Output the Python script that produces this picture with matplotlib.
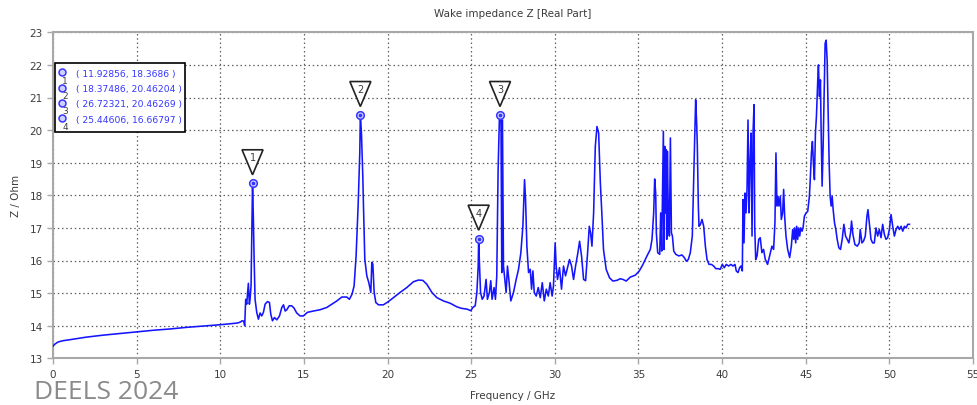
import matplotlib
matplotlib.use("Agg")
import matplotlib.pyplot as plt
import matplotlib.patches as mpatches
import matplotlib.transforms as mtransforms

# ---- data (frequency in GHz, Re(Z) in Ohm) ----
freq_ghz = [
    0.0, 0.1, 0.3, 0.6, 1.0, 2.0, 3.0, 4.0, 5.0, 6.0, 7.0, 8.0, 9.0, 10.0, 10.6, 11.0, 11.2, 11.3, 11.4, 11.46,
    11.52, 11.58, 11.68, 11.74, 11.78, 11.84, 11.88, 11.92856, 11.98, 12.02, 12.08, 12.18, 12.28, 12.38, 12.48,
    12.58, 12.68, 12.82, 12.94, 13.02, 13.12, 13.24, 13.38, 13.54, 13.68, 13.78, 13.88, 13.98, 14.12, 14.27,
    14.41, 14.57, 14.77, 14.97, 15.21, 15.57, 15.97, 16.37, 16.67, 16.97, 17.27, 17.56, 17.72, 17.88, 18.00,
    18.12, 18.24, 18.34, 18.37486, 18.44, 18.52, 18.56, 18.64, 18.76, 18.88, 19.00, 19.06, 19.12, 19.20, 19.30,
    19.46, 19.75, 20.05, 20.35, 20.75, 21.15, 21.55, 21.85, 22.11, 22.35, 22.65, 22.95, 23.34, 23.74, 24.14,
    24.44, 24.74, 24.98, 25.10, 25.24, 25.34, 25.42, 25.44606, 25.50, 25.56, 25.66, 25.77, 25.89, 25.97, 26.09,
    26.17, 26.25, 26.37, 26.45, 26.53, 26.61, 26.69, 26.72321, 26.78, 26.83, 26.87, 26.93, 27.01, 27.09, 27.17,
    27.25, 27.37, 27.53, 27.69, 27.83, 27.97, 28.09, 28.19, 28.25, 28.33, 28.43, 28.53, 28.61, 28.69, 28.77,
    28.89, 29.01, 29.13, 29.25, 29.37, 29.49, 29.61, 29.72, 29.84, 29.92, 30.02, 30.08, 30.16, 30.28, 30.40,
    30.52, 30.64, 30.76, 30.88, 31.00, 31.12, 31.24, 31.38, 31.48, 31.60, 31.72, 31.84, 31.96, 32.06, 32.14,
    32.22, 32.32, 32.42, 32.52, 32.62, 32.72, 32.81, 32.91, 33.07, 33.27, 33.47, 33.71, 33.91, 34.07, 34.27,
    34.51, 34.81, 35.05, 35.27, 35.51, 35.71, 35.81, 35.91, 35.97, 36.03, 36.07, 36.15, 36.27, 36.33, 36.39,
    36.45, 36.49, 36.53, 36.57, 36.61, 36.65, 36.69, 36.73, 36.79, 36.85, 36.91, 36.97, 37.03, 37.11, 37.23,
    37.41, 37.60, 37.74, 37.86, 37.98, 38.10, 38.22, 38.30, 38.36, 38.42, 38.48, 38.52, 38.58, 38.62, 38.70,
    38.80, 38.90, 39.00, 39.10, 39.22, 39.36, 39.50, 39.62, 39.76, 39.89, 40.01, 40.13, 40.25, 40.39, 40.53,
    40.65, 40.77, 40.85, 40.95, 41.05, 41.13, 41.21, 41.25, 41.31, 41.37, 41.43, 41.49, 41.55, 41.61, 41.67,
    41.73, 41.79, 41.85, 41.91, 41.95, 42.01, 42.09, 42.19, 42.28, 42.38, 42.48, 42.58, 42.72, 42.84, 42.98,
    43.08, 43.16, 43.22, 43.28, 43.34, 43.40, 43.48, 43.54, 43.62, 43.68, 43.74, 43.82, 43.92, 44.04, 44.14,
    44.22, 44.28, 44.34, 44.40, 44.46, 44.52, 44.58, 44.64, 44.70, 44.78, 44.84, 44.92, 45.02, 45.12, 45.22,
    45.28, 45.34, 45.40, 45.46, 45.52, 45.58, 45.64, 45.72, 45.76, 45.82, 45.88, 45.92, 45.98, 46.04, 46.10,
    46.16, 46.22, 46.28, 46.34, 46.40, 46.46, 46.52, 46.58, 46.64, 46.72, 46.80, 46.88, 46.98, 47.08, 47.18,
    47.28, 47.38, 47.48, 47.58, 47.68, 47.74, 47.82, 47.94, 48.08, 48.20, 48.26, 48.36, 48.46, 48.56, 48.66,
    48.72, 48.80, 48.90, 49.00, 49.10, 49.20, 49.30, 49.40, 49.50, 49.60, 49.70, 49.80, 49.90, 50.00, 50.10,
    50.20, 50.30, 50.40, 50.50, 50.60, 50.70, 50.80, 50.90, 51.00, 51.10, 51.20,
]
z_ohm = [
    13.37, 13.43, 13.50, 13.54, 13.57, 13.65, 13.71, 13.76, 13.81, 13.86, 13.90, 13.95, 13.99, 14.03, 14.06, 14.08, 14.11, 14.15, 14.14, 14.00,
    14.81, 14.66, 15.30, 14.66, 14.81, 15.22, 16.65, 18.3686, 17.26, 16.14, 14.81, 14.41, 14.20, 14.39, 14.30,
    14.41, 14.66, 14.74, 14.71, 14.35, 14.15, 14.25, 14.18, 14.30, 14.56, 14.64, 14.45, 14.49, 14.61, 14.61,
    14.54, 14.39, 14.30, 14.30, 14.41, 14.45, 14.49, 14.56, 14.66, 14.76, 14.88, 14.88, 14.81, 14.97, 15.22,
    16.14, 17.67, 19.30, 20.46204, 19.90, 18.60, 17.69, 16.04, 15.53, 15.32, 15.02, 15.94, 15.89, 15.02, 14.71,
    14.64, 14.64, 14.74, 14.86, 15.02, 15.17, 15.35, 15.40, 15.39, 15.27, 15.02, 14.86, 14.76, 14.69, 14.58,
    14.53, 14.51, 14.46, 14.56, 14.61, 15.02, 15.83, 16.66797, 15.83, 15.02, 14.81, 14.91, 15.42, 14.81, 15.02,
    15.38, 14.81, 15.17, 14.81, 15.53, 18.79, 20.42, 20.46269, 20.42, 15.63, 20.31, 15.83, 15.42, 15.02, 15.83,
    15.42, 14.76, 15.02, 15.42, 15.73, 16.24, 17.05, 18.48, 17.87, 16.44, 15.63, 15.73, 15.12, 15.68, 15.02,
    14.91, 15.17, 14.86, 15.32, 14.76, 15.12, 14.91, 15.32, 14.91, 15.22, 16.54, 15.83, 15.42, 15.78, 15.12,
    15.83, 15.53, 15.78, 16.03, 15.83, 15.42, 15.83, 16.24, 16.59, 16.13, 15.42, 15.38, 16.24, 17.05, 16.84,
    16.44, 17.46, 19.50, 20.11, 19.91, 18.40, 17.46, 16.34, 15.73, 15.47, 15.37, 15.39, 15.44, 15.42, 15.37,
    15.49, 15.55, 15.68, 15.88, 16.14, 16.34, 16.65, 17.46, 18.50, 18.07, 16.85, 16.24, 16.19, 17.46, 16.29,
    18.48, 19.96, 16.34, 19.50, 17.46, 19.40, 16.65, 19.35, 17.26, 16.75, 19.76, 16.85, 16.75, 16.29, 16.19,
    16.14, 16.17, 16.09, 15.98, 16.03, 16.24, 16.75, 18.48, 19.71, 20.93, 20.22, 19.50, 17.67, 17.05, 17.10,
    17.26, 17.05, 16.44, 16.03, 15.88, 15.88, 15.83, 15.75, 15.75, 15.73, 15.88, 15.78, 15.88, 15.83, 15.88,
    15.83, 15.88, 15.68, 15.63, 15.78, 15.83, 15.68, 17.87, 16.54, 18.07, 17.46, 18.17, 20.31, 17.46, 18.99,
    19.91, 16.75, 19.91, 20.78, 17.05, 16.03, 16.14, 16.65, 16.70, 16.24, 16.34, 16.04, 15.88, 16.14, 16.44,
    16.34, 17.16, 19.30, 17.67, 17.97, 17.67, 17.97, 17.26, 17.46, 18.18, 17.36, 16.75, 16.34, 16.09, 16.44,
    16.95, 16.65, 17.00, 16.54, 17.05, 16.65, 17.00, 16.75, 17.00, 16.90, 17.00, 17.36, 17.46, 17.51, 17.97,
    18.58, 19.30, 19.65, 18.99, 18.48, 19.91, 20.42, 21.54, 22.00, 21.03, 21.54, 20.01, 18.28, 19.50, 21.03,
    22.66, 22.76, 22.15, 20.52, 18.99, 17.97, 17.67, 17.97, 17.56, 17.16, 16.95, 16.65, 16.39, 16.34, 16.65,
    17.11, 16.75, 16.65, 16.54, 16.85, 17.21, 16.80, 16.49, 16.44, 16.54, 16.95, 16.54, 16.60, 16.75, 17.36,
    17.56, 17.16, 16.65, 16.54, 16.54, 17.00, 16.75, 16.95, 16.70, 17.11, 16.80, 16.65, 16.70, 16.95, 17.41,
    17.05, 16.75, 16.95, 17.05, 16.95, 17.05, 16.90, 17.05, 17.00, 17.11, 17.11,
]

marker_freq = [11.92856, 18.37486, 26.72321, 25.44606]
marker_z = [18.3686, 20.46204, 20.46269, 16.66797]
marker_text = ["( 11.92856, 18.3686 )", "( 18.37486, 20.46204 )",
               "( 26.72321, 20.46269 )", "( 25.44606, 16.66797 )"]

W, H = 977, 406
BLUE = "#1414ff"
GREY_TXT = "#3c3c3c"

fig = plt.figure(figsize=(W / 100, H / 100), dpi=100)
fig.patch.set_facecolor("white")


def fx(px):
    return px / W


def fy(py):
    return 1 - py / H


ax = fig.add_axes([fx(53), fy(359.3), 920 / W, 326 / H])
ax.set_xlim(0, 55)
ax.set_ylim(13, 23)
ax.set_xticks(range(0, 56, 5))
ax.set_yticks(range(13, 24))
ax.grid(True, color="#606060", linestyle=(0, (1.2, 2.2)), linewidth=0.9)
ax.set_axisbelow(True)
for s in ax.spines.values():
    s.set_color("#a8a8a8")
    s.set_linewidth(1.5)
ax.tick_params(colors="#a8a8a8", labelcolor=GREY_TXT, labelsize=7.5, length=4, width=1)

ax.plot(freq_ghz, z_ohm, color=BLUE, lw=1.15, zorder=3)

# markers: circle on the curve + numbered inverted triangle above
ax.plot(marker_freq, marker_z, "o", ms=5.5, mfc="#d0d0ff", mec="#3535ff", mew=1.1, zorder=4)
ax.plot(marker_freq, marker_z, "o", ms=1.6, color="#3535ff", zorder=5)
for i, (f, z) in enumerate(zip(marker_freq, marker_z)):
    tr = fig.dpi_scale_trans + mtransforms.ScaledTranslation(f, z, ax.transData)
    tri = mpatches.Polygon([(-0.105, 0.335), (0.105, 0.335), (0, 0.085)], closed=True,
                           fc="white", ec="#222222", lw=1.2, transform=tr, zorder=6)
    ax.add_patch(tri)
    ax.annotate(str(i + 1), xy=(f, z), xytext=(0, 26), textcoords="offset pixels",
                ha="center", va="center", fontsize=7, color=GREY_TXT, zorder=7)

ax.set_title("Wake impedance Z [Real Part]", fontsize=7.5, color=GREY_TXT, pad=12)
ax.set_xlabel("Frequency / GHz", fontsize=7.5, color=GREY_TXT, labelpad=8)
ax.set_ylabel("Z / Ohm", fontsize=7.5, color=GREY_TXT, labelpad=6)

# marker value box, upper left
box = mpatches.Rectangle((fx(55), fy(132.7)), 130 / W, 68.7 / H, transform=fig.transFigure,
                         fc="white", ec="black", lw=1.2, zorder=10)
fig.add_artist(box)
row_y = [74, 89.7, 104.7, 120]
for i, (ry, txt) in enumerate(zip(row_y, marker_text)):
    fig.text(fx(76.5), fy(ry), txt, fontsize=6.6, color="#3535ff", va="center", ha="left", zorder=11)
    fig.text(fx(65), fy(ry + 7), str(i + 1), fontsize=6.5, color=GREY_TXT, va="center", ha="center", zorder=11)
    mk = plt.Line2D([fx(62.3)], [fy(ry - 1)], marker="o", ms=5, mfc="#d0d0ff", mec="#3535ff", mew=1.1,
                    transform=fig.transFigure, zorder=12)
    fig.add_artist(mk)

fig.text(fx(34), fy(405.5), "DEELS 2024", fontsize=19, color="#8a8a8a", family="Open Sans",
         ha="left", va="bottom")

fig.savefig("out.png", dpi=100)
